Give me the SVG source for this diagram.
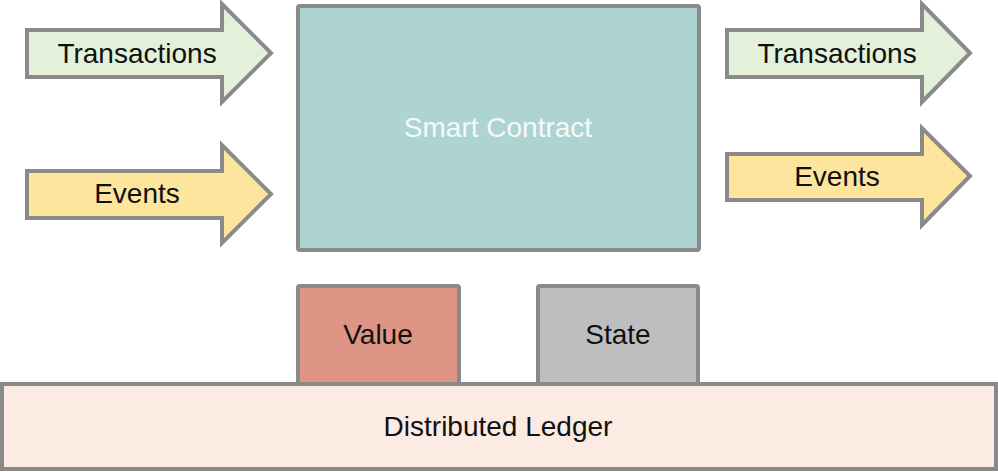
<svg xmlns="http://www.w3.org/2000/svg" width="998" height="472" viewBox="0 0 998 472">
<style>
.s{stroke:#8a8a8a;stroke-width:4;stroke-linejoin:miter}
.t{font-family:"Liberation Sans",Arial,sans-serif;font-size:28px;fill:#111;text-anchor:middle;dominant-baseline:central}
.w{fill:#f4fafa}
</style>
<rect width="998" height="472" fill="#fff"/>
<g id="smart-contract">
<rect class="s" x="298" y="6" width="401" height="244" rx="2" fill="#aed4d2"/>
<text class="t w" x="498" y="127">Smart Contract</text>
</g>
<g id="tx-in">
<polygon class="s" points="27,30 222,30 222,4 271,53 222,102 222,77 27,77" fill="#e3f1da"/>
<text class="t" x="137" y="53">Transactions</text>
</g>
<g id="events-in">
<polygon class="s" points="27,171 222,171 222,145 271,194 222,243 222,218 27,218" fill="#fee59e"/>
<text class="t" x="137" y="193">Events</text>
</g>
<g id="tx-out">
<polygon class="s" points="727,30 922,30 922,4 970,53 922,102 922,77 727,77" fill="#e3f1da"/>
<text class="t" x="837" y="53">Transactions</text>
</g>
<g id="events-out">
<polygon class="s" points="727,154 922,154 922,128 970,176 922,225 922,200 727,200" fill="#fee59e"/>
<text class="t" x="837" y="176">Events</text>
</g>
<g id="value">
<rect class="s" x="298" y="286" width="161" height="110" rx="2" fill="#de9585"/>
<text class="t" x="378" y="334">Value</text>
</g>
<g id="state">
<rect class="s" x="538" y="286" width="160" height="110" rx="2" fill="#bdbec0"/>
<text class="t" x="618" y="334">State</text>
</g>
<g id="ledger">
<rect class="s" x="2" y="384" width="994" height="85" fill="#fcebe3"/>
<text class="t" x="498" y="426">Distributed Ledger</text>
</g>
<g id="connectors"></g>
</svg>
